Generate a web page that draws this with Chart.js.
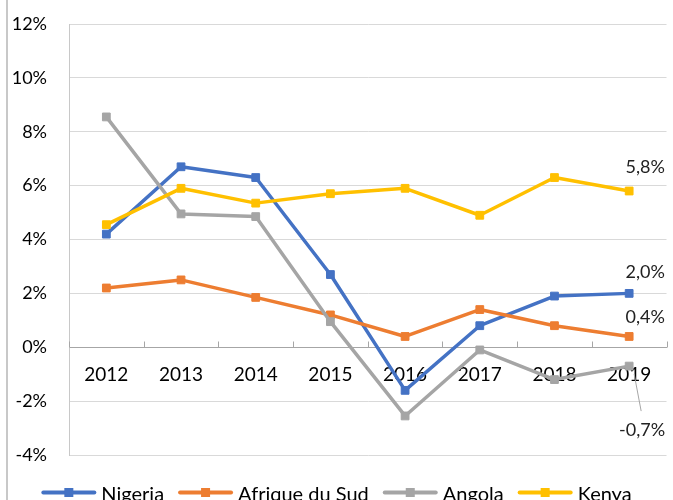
<!DOCTYPE html>
<html>
<head>
<meta charset="utf-8">
<script src="https://cdn.jsdelivr.net/npm/chart.js@4.4.1/dist/chart.umd.min.js"></script>
<style>
  html, body { margin: 0; padding: 0; background: #fff; }
  #wrap { width: 673px; height: 500px; }
</style>
</head>
<body>
<div id="wrap"><canvas id="chart" width="673" height="500"></canvas></div>
<script>
// values (% growth)
const years = ['2012', '2013', '2014', '2015', '2016', '2017', '2018', '2019'];
const nigeria = [4.2, 6.7, 6.3, 2.7, -1.6, 0.8, 1.9, 2.0];
const afriqueDuSud = [2.2, 2.5, 1.85, 1.2, 0.4, 1.4, 0.8, 0.4];
const angola = [8.55, 4.95, 4.85, 0.95, -2.55, -0.1, -1.2, -0.7];
const kenya = [4.55, 5.9, 5.35, 5.7, 5.9, 4.9, 6.3, 5.8];
const seriesNames = ['Nigeria', 'Afrique du Sud', 'Angola', 'Kenya'];
const yMin = -4, yMax = 12, yStep = 2;

const colors = ['#4472C4', '#ED7D31', '#A5A5A5', '#FFC000'];
const allSeries = [nigeria, afriqueDuSud, angola, kenya];
// where the label of the last point sits, relative to the point
const lastLabelOffset = [[16, -21], [16, -19], [13, 64], [16, -24]];
const FONT = 'Lato, "Open Sans", sans-serif';

const fmt = v => v.toFixed(1).replace('.', ',') + '%';

const extras = {
  id: 'extras',
  afterDraw(chart) {
    const ctx = chart.ctx;
    const x = chart.scales.x, y = chart.scales.y;
    ctx.save();
    // outer frame line on the left
    ctx.strokeStyle = '#C8C8C8';
    ctx.lineWidth = 2;
    ctx.beginPath(); ctx.moveTo(7, 0); ctx.lineTo(7, chart.height); ctx.stroke();

    // category tick marks on the zero axis (pointing up)
    const y0 = Math.round(y.getPixelForValue(0)) + 0.5;
    const half = (x.getPixelForValue(1) - x.getPixelForValue(0)) / 2;
    ctx.strokeStyle = '#A6A6A6';
    ctx.lineWidth = 1;
    ctx.beginPath();
    for (let i = 0; i <= years.length; i++) {
      const px = Math.round(x.getPixelForValue(i) - half) + 0.5;
      ctx.moveTo(px, y0); ctx.lineTo(px, y0 - 6);
    }
    ctx.stroke();

    // labels on the last point of each series
    ctx.font = '18px ' + FONT;
    ctx.fillStyle = '#222';
    ctx.textAlign = 'center';
    ctx.textBaseline = 'middle';
    const last = years.length - 1;
    allSeries.forEach((s, i) => {
      const px = x.getPixelForValue(last), py = y.getPixelForValue(s[last]);
      const [dx, dy] = lastLabelOffset[i];
      ctx.fillText(fmt(s[last]), px + dx, py + dy);
      if (dy > 40) {
        ctx.strokeStyle = '#A6A6A6';
        ctx.lineWidth = 1;
        ctx.beginPath();
        ctx.moveTo(px + 5, py + 8);
        ctx.lineTo(px + dx - 1, py + dy - 19);
        ctx.stroke();
      }
    });

    // legend (line + square marker, like the reference)
    ctx.font = '20px ' + FONT;
    ctx.textAlign = 'left';
    const lineLen = 55, gapText = 5, gapItem = 14;
    const widths = seriesNames.map(n => lineLen + gapText + ctx.measureText(n).width);
    const total = widths.reduce((a, b) => a + b, 0) + gapItem * (seriesNames.length - 1);
    let lx = (chart.width - total) / 2;
    const ly = 492.5;
    seriesNames.forEach((n, i) => {
      ctx.strokeStyle = colors[i];
      ctx.lineWidth = 4;
      ctx.lineCap = 'round';
      ctx.beginPath(); ctx.moveTo(lx + 2, ly); ctx.lineTo(lx + lineLen - 2, ly); ctx.stroke();
      ctx.fillStyle = colors[i];
      ctx.fillRect(lx + lineLen / 2 - 4.5, ly - 4.5, 9, 9);
      ctx.fillStyle = '#000';
      ctx.fillText(n, lx + lineLen + gapText, ly + 2);
      lx += widths[i] + gapItem;
    });
    ctx.restore();
  }
};

new Chart(document.getElementById('chart'), {
  type: 'line',
  data: {
    labels: years,
    datasets: allSeries.map((s, i) => ({
      label: seriesNames[i],
      data: s,
      borderColor: colors[i],
      backgroundColor: colors[i],
      borderWidth: 3.5,
      borderJoinStyle: 'round',
      borderCapStyle: 'round',
      pointStyle: 'rect',
      pointRadius: 5.5,
      pointBorderWidth: 1,
      pointHoverRadius: 5.5,
      tension: 0,
      fill: false,
      order: allSeries.length - i
    }))
  },
  options: {
    responsive: false,
    animation: false,
    events: [],
    layout: { padding: { left: 0, top: 24, right: 2, bottom: 45 } },
    plugins: { legend: { display: false }, tooltip: { enabled: false } },
    scales: {
      x: {
        type: 'category',
        position: { y: 0 },
        offset: true,
        grid: { display: false, drawTicks: false, offset: true },
        border: { display: true, color: '#A6A6A6', width: 1 },
        ticks: { color: '#000', font: { family: FONT, size: 19 }, padding: 16, maxRotation: 0, autoSkip: false }
      },
      y: {
        min: yMin,
        max: yMax,
        afterFit(scale) {
          scale.width = 69;
          scale.paddingTop = 0;
          scale.paddingBottom = 0;
        },
        grid: { color: '#D9D9D9', lineWidth: 1, drawTicks: false },
        border: { display: true, color: '#C8C8C8', width: 1 },
        ticks: {
          stepSize: yStep,
          color: '#000',
          padding: 22,
          font: { family: FONT, size: 18 },
          callback: v => v + '%'
        }
      }
    }
  },
  plugins: [extras]
});
</script>
</body>
</html>
